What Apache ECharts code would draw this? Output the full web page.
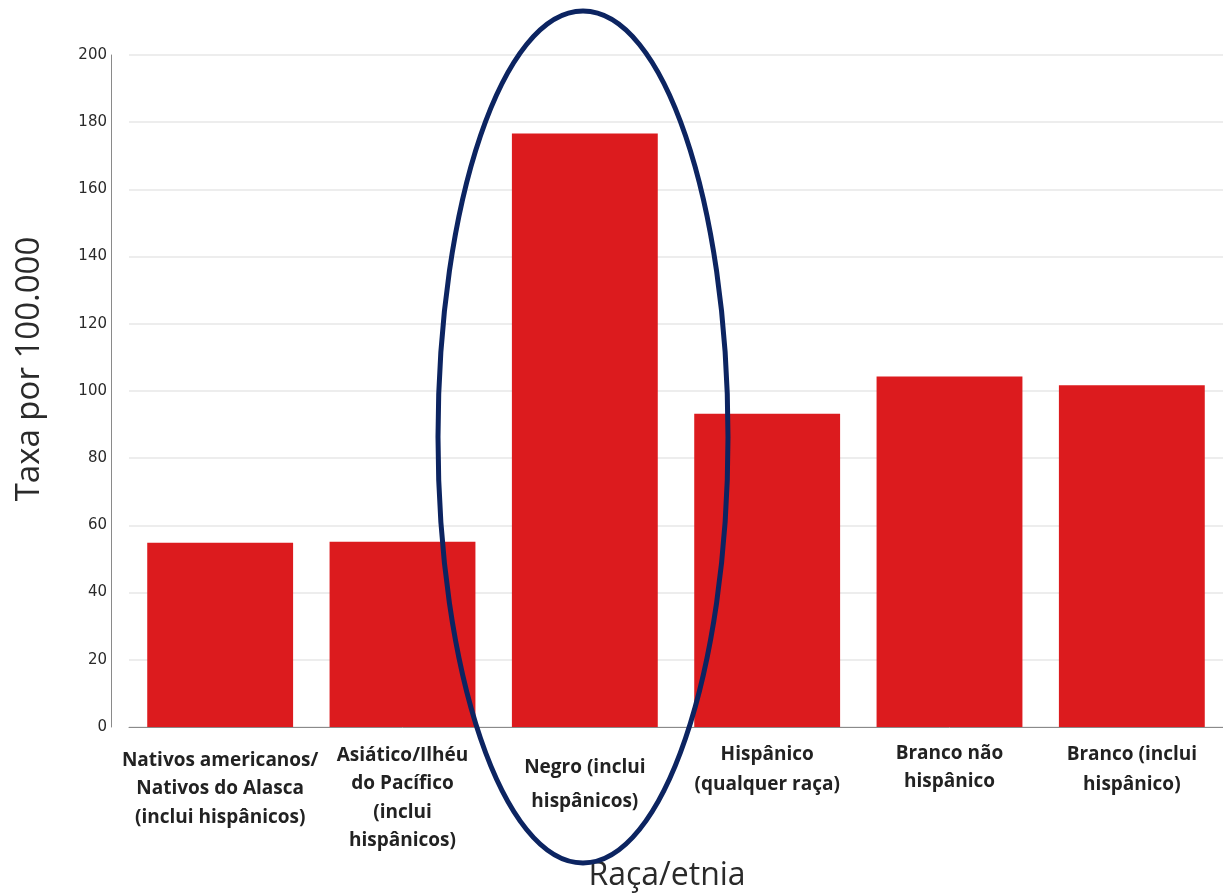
<!DOCTYPE html>
<html>
<head>
<meta charset="utf-8">
<script src="https://cdn.jsdelivr.net/npm/echarts@6/dist/echarts.min.js"></script>
<style>
html,body{margin:0;padding:0;background:#fff;}
#chart{width:1223px;height:895px;}
</style>
</head>
<body>
<div id="chart"></div>
<script>
var categories = [
  'Nativos americanos/\nNativos do Alasca\n(inclui hispânicos)',
  'Asiático/Ilhéu\ndo Pacífico\n(inclui\nhispânicos)',
  'Negro (inclui\nhispânicos)',
  'Hispânico\n(qualquer raça)',
  'Branco não\nhispânico',
  'Branco (inclui\nhispânico)'
];
var rates = [54.8, 55.1, 176.6, 93.2, 104.3, 101.7];
var yTicks = [0, 20, 40, 60, 80, 100, 120, 140, 160, 180, 200];
var yTitle = 'Taxa por 100.000';
var xTitle = 'Raça/etnia';

// per-label line spacing / top offset as seen in the reference
var labelLineHeights = [28.5, 28.5, 34, 30, 28, 30];
var labelTopPads = [6, 1, 11, 0, 0, 0];

var categoryItems = categories.map(function (c, i) {
  return {value: c, textStyle: {lineHeight: labelLineHeights[i], padding: [labelTopPads[i], 0, 0, 0]}};
});

var chart = echarts.init(document.getElementById('chart'), null, {renderer: 'canvas'});
chart.setOption({
  animation: false,
  backgroundColor: '#ffffff',
  grid: {left: 129, right: 0, top: 55, bottom: 168, containLabel: false},
  xAxis: {
    type: 'category',
    data: categoryItems,
    axisLine: {show: true, lineStyle: {color: '#8a8a8a', width: 1}},
    axisTick: {show: false},
    axisLabel: {
      interval: 0,
      margin: 13,
      color: '#222222',
      fontFamily: 'Open Sans',
      fontWeight: 'bold',
      fontSize: 19,
      lineHeight: 28
    }
  },
  yAxis: {
    type: 'value',
    min: yTicks[0],
    max: yTicks[yTicks.length - 1],
    interval: 20,
    offset: 18,
    axisLine: {show: true, lineStyle: {color: '#8a8a8a', width: 1}},
    axisTick: {show: false},
    axisLabel: {margin: 4, color: '#2a2a2a', fontFamily: 'DejaVu Sans', fontSize: 15},
    splitLine: {show: true, lineStyle: {color: '#ededed', width: 2}}
  },
  series: [{
    type: 'bar',
    data: rates,
    barCategoryGap: '20%',
    itemStyle: {color: '#dc1b1e'}
  }],
  graphic: [
    {
      type: 'text',
      x: 30,
      y: 369,
      rotation: Math.PI / 2,
      style: {text: yTitle, fill: '#2a2a2a', font: '33px "Open Sans", sans-serif', textAlign: 'center', textVerticalAlign: 'middle'}
    },
    {
      type: 'text',
      x: 667,
      y: 876,
      style: {text: xTitle, fill: '#2a2a2a', font: '32px "Open Sans", sans-serif', textAlign: 'center', textVerticalAlign: 'middle'}
    },
    {
      type: 'ellipse',
      shape: {cx: 583, cy: 437, rx: 145, ry: 426},
      style: {fill: 'none', stroke: '#0c2461', lineWidth: 5},
      z: 100
    }
  ]
});
</script>
</body>
</html>
